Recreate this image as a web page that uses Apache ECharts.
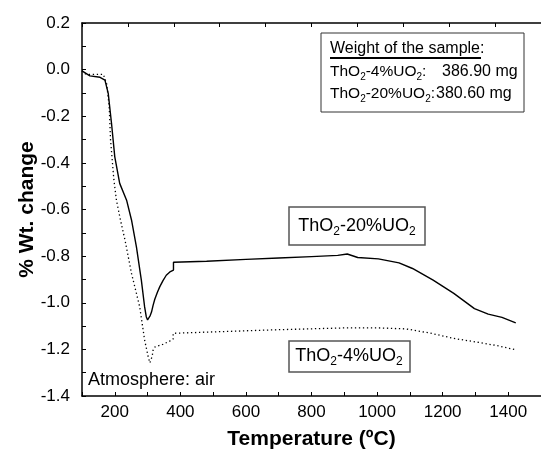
<!DOCTYPE html>
<html>
<head>
<meta charset="utf-8">
<script src="https://cdn.jsdelivr.net/npm/echarts@6/dist/echarts.min.js"></script>
<style>
  html, body { margin: 0; padding: 0; background: #fff; }
  #chart { width: 541px; height: 452px; }
</style>
</head>
<body>
<div id="chart"></div>
<script>
// TGA curves: weight change (%) vs temperature (°C) in air
const temp20 = [100, 124, 155, 170, 180, 190, 200, 215, 236, 251, 266, 281, 291, 296, 300, 304, 308, 312, 317, 322, 330, 337, 347, 357, 368, 379, 379,
                480, 600, 700, 800, 880, 909, 941, 1004, 1067, 1108, 1171, 1234, 1297, 1339, 1381, 1423];
const wt20   = [-0.005, -0.027, -0.033, -0.045, -0.102, -0.230, -0.374, -0.488, -0.560, -0.645, -0.760, -0.903, -1.018, -1.060, -1.074, -1.072, -1.055, -1.040, -1.010, -0.985, -0.955, -0.932, -0.905, -0.882, -0.868, -0.860, -0.826,
                -0.822, -0.814, -0.808, -0.802, -0.797, -0.791, -0.806, -0.812, -0.829, -0.853, -0.903, -0.960, -1.025, -1.049, -1.063, -1.086];

const temp4 = [100, 110, 120, 140, 165, 170, 175, 180, 183, 187, 190, 197, 205, 218, 231, 251, 266, 276, 291, 302, 307, 310, 314, 317, 322, 327, 347, 367, 378, 378,
               480, 690, 899, 1004, 1088, 1161, 1234, 1318, 1370, 1423];
const wt4   = [-0.005, -0.018, -0.020, -0.020, -0.020, -0.025, -0.060, -0.120, -0.160, -0.300, -0.350, -0.470, -0.560, -0.650, -0.730, -0.874, -0.960, -1.018, -1.160, -1.232, -1.258, -1.262, -1.230, -1.203, -1.190, -1.182, -1.178, -1.165, -1.155, -1.131,
               -1.126, -1.116, -1.108, -1.108, -1.112, -1.130, -1.153, -1.172, -1.185, -1.202];

const xTickLabels = [200, 400, 600, 800, 1000, 1200, 1400];
const yTickLabels = ['-1.4', '-1.2', '-1.0', '-0.8', '-0.6', '-0.4', '-0.2', '0.0', '0.2'];

const FONT = '"Liberation Sans", Arial, sans-serif';

const chart = echarts.init(document.getElementById('chart'), null, { renderer: 'canvas' });

const axisLineStyle = { color: '#000', width: 1.5 };
const subRich = (size) => ({ s: { fontSize: size, fontFamily: FONT, fill: '#000', verticalAlign: 'bottom', lineHeight: size } });

function chemText(x, y, text, size, subSize, align) {
  return {
    type: 'text', x: x, y: y, silent: true,
    style: {
      text: text, fill: '#000', fontSize: size, fontFamily: FONT,
      lineHeight: size + 5,
      textAlign: align || 'left', textVerticalAlign: 'middle', verticalAlign: 'middle',
      rich: subRich(subSize)
    }
  };
}

function plainText(x, y, text, size) {
  return {
    type: 'text', x: x, y: y, silent: true,
    style: { text: text, fill: '#000', fontSize: size, fontFamily: FONT, textVerticalAlign: 'middle', verticalAlign: 'middle' }
  };
}

const option = {
  animation: false,
  backgroundColor: '#fff',
  grid: { left: 82, right: 0, top: 23, bottom: 56, containLabel: false, outerBoundsMode: 'none' },
  xAxis: [{
    type: 'value', position: 'bottom', min: 100, max: 1500, interval: 100,
    axisLine: { show: true, onZero: false, lineStyle: axisLineStyle },
    axisTick: { show: true, inside: true, length: 4, lineStyle: { color: '#000', width: 1 } },
    axisLabel: {
      color: '#000', fontSize: 17, fontFamily: FONT, margin: 8,
      formatter: (v) => xTickLabels.indexOf(Math.round(v)) >= 0 ? String(Math.round(v)) : ''
    },
    splitLine: { show: false },
    name: 'Temperature (ºC)', nameLocation: 'middle', nameGap: 33, nameMoveOverlap: false,
    nameTextStyle: { color: '#000', fontSize: 21, fontWeight: 'bold', fontFamily: FONT }
  }, {
    type: 'value', position: 'top', min: 0, max: 10, interval: 1,
    axisLine: { show: true, onZero: false, lineStyle: axisLineStyle },
    axisTick: { show: true, inside: true, length: 4, lineStyle: { color: '#000', width: 1 } },
    axisLabel: { show: false },
    splitLine: { show: false }
  }],
  yAxis: {
    type: 'value', min: -1.4, max: 0.2, interval: 0.2,
    axisLine: { show: true, onZero: false, lineStyle: axisLineStyle },
    axisTick: { show: true, inside: true, length: 4, lineStyle: { color: '#000', width: 1 } },
    minorTick: { show: true, splitNumber: 2, length: 4, lineStyle: { color: '#000', width: 1 } },
    axisLabel: {
      color: '#000', fontSize: 17, fontFamily: FONT, margin: 12,
      formatter: (v) => yTickLabels[Math.round((v + 1.4) / 0.2)]
    },
    splitLine: { show: false },
    name: '% Wt. change', nameLocation: 'middle', nameGap: 44, nameMoveOverlap: false,
    nameTextStyle: { color: '#000', fontSize: 21, fontWeight: 'bold', fontFamily: FONT }
  },
  series: [{
    name: 'ThO2-20%UO2', type: 'line', symbol: 'none',
    data: temp20.map((t, i) => [t, wt20[i]]),
    lineStyle: { color: '#000', width: 1.4, type: 'solid' }
  }, {
    name: 'ThO2-4%UO2', type: 'line', symbol: 'none',
    data: temp4.map((t, i) => [t, wt4[i]]),
    lineStyle: { color: '#000', width: 1.3, type: [1.3, 2.7] }
  }],
  graphic: [
    // sample weight box
    { type: 'rect', shape: { x: 321, y: 33, width: 203, height: 79 }, style: { fill: '#fff', stroke: '#333', lineWidth: 1 }, silent: true },
    plainText(330, 49, 'Weight of the sample:', 16),
    { type: 'line', shape: { x1: 330, y1: 58, x2: 481, y2: 58 }, style: { stroke: '#000', lineWidth: 2 }, silent: true },
    chemText(330, 72, 'ThO{s|2}-4%UO{s|2}:', 15.5, 10),
    plainText(442, 72, '386.90 mg', 16),
    chemText(330, 94, 'ThO{s|2}-20%UO{s|2}:', 15.5, 10),
    plainText(436, 94, '380.60 mg', 16),

    // curve labels
    { type: 'rect', shape: { x: 289, y: 207, width: 136, height: 38 }, style: { fill: '#fff', stroke: '#555', lineWidth: 1.5 }, silent: true },
    chemText(357, 226, 'ThO{s|2}-20%UO{s|2}', 18, 12, 'center'),
    { type: 'rect', shape: { x: 289, y: 341, width: 121, height: 31 }, style: { fill: '#fff', stroke: '#555', lineWidth: 1.5 }, silent: true },
    chemText(349, 356, 'ThO{s|2}-4%UO{s|2}', 18, 12, 'center'),

    plainText(88, 380, 'Atmosphere: air', 18)
  ]
};

chart.setOption(option);
</script>
</body>
</html>
